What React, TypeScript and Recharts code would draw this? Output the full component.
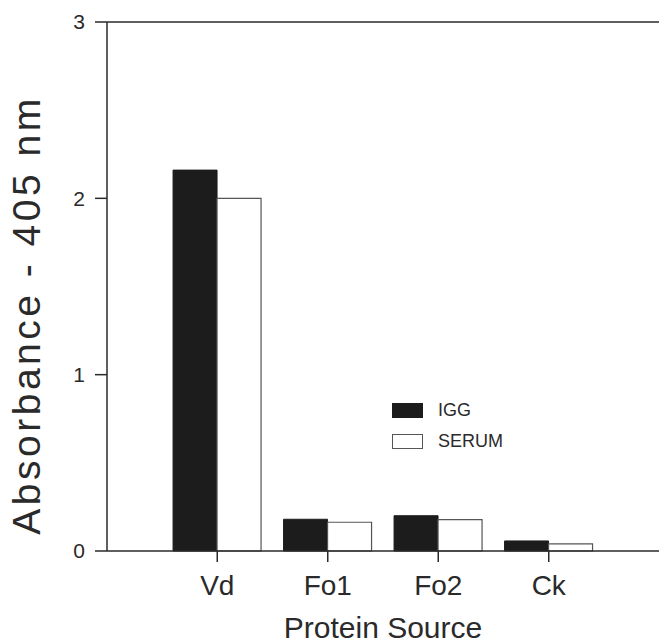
import { BarChart, Bar, XAxis, YAxis, Legend, ReferenceLine } from 'recharts';

const categories = ['Vd', 'Fo1', 'Fo2', 'Ck'];
const iggValues = [2.16, 0.18, 0.2, 0.057];
const serumValues = [2.0, 0.163, 0.178, 0.04];
const yTicks = [0, 1, 2, 3];

const chartData = categories.map((name, i) => ({
  name,
  igg: iggValues[i],
  serum: serumValues[i],
}));

const font = '"Liberation Sans", Arial, Helvetica, sans-serif';
const ink = '#2a2a2a';

const LegendBox = (props: { payload?: any[] }) => {
  const items = props.payload || [];
  return (
    <div style={{ fontFamily: font, fontSize: 18, color: ink }}>
      {items.map((item: any) => (
        <div
          key={item.value}
          style={{ display: 'flex', alignItems: 'center', height: 31 }}
        >
          <span
            style={{
              display: 'inline-block',
              width: 29,
              height: 13,
              background: item.payload.fill,
              border: `1px solid ${item.payload.stroke || item.payload.fill}`,
              marginRight: 15,
            }}
          />
          <span>{item.value}</span>
        </div>
      ))}
    </div>
  );
};

const YLabel = () => (
  <text
    x={40}
    y={315}
    transform="rotate(-90 40 315)"
    textAnchor="middle"
    fontFamily={font}
    fontSize={39}
    letterSpacing={3.5}
    fill={ink}
  >
    Absorbance - 405 nm
  </text>
);

export default function App() {
  return (
    <div style={{ position: 'absolute', left: 0, top: 0, background: '#fff' }}>
      <BarChart
        width={659}
        height={643}
        data={chartData}
        margin={{ top: 22, right: 0, left: 0, bottom: 0 }}
        barCategoryGap="10%"
        barGap={0}
      >
        <XAxis
          dataKey="name"
          height={92}
          padding={{ left: 55, right: 55 }}
          stroke={ink}
          strokeWidth={1.5}
          tickSize={11}
          tickMargin={13}
          tick={{ fontFamily: font, fontSize: 28, fill: ink }}
          label={{
            value: 'Protein Source',
            position: 'insideBottom',
            offset: 5,
            fontFamily: font,
            fontSize: 30,
            fill: ink,
          }}
        />
        <YAxis
          width={107}
          domain={[0, 3]}
          ticks={yTicks}
          stroke={ink}
          strokeWidth={1.5}
          tickSize={12}
          tickMargin={10}
          tick={{ fontFamily: font, fontSize: 21, fill: ink }}
          label={<YLabel />}
        />
        <ReferenceLine y={3} stroke={ink} strokeWidth={1.5} />
        <Legend
          layout="horizontal"
          verticalAlign="middle"
          align="center"
          content={<LegendBox />}
          wrapperStyle={{ left: 392, top: 395, width: 150 }}
        />
        <Bar
          dataKey="igg"
          name="IGG"
          fill="#1c1c1c"
          stroke="#1c1c1c"
          isAnimationActive={false}
        />
        <Bar
          dataKey="serum"
          name="SERUM"
          fill="#ffffff"
          stroke="#555555"
          strokeWidth={1.2}
          isAnimationActive={false}
        />
      </BarChart>
    </div>
  );
}
